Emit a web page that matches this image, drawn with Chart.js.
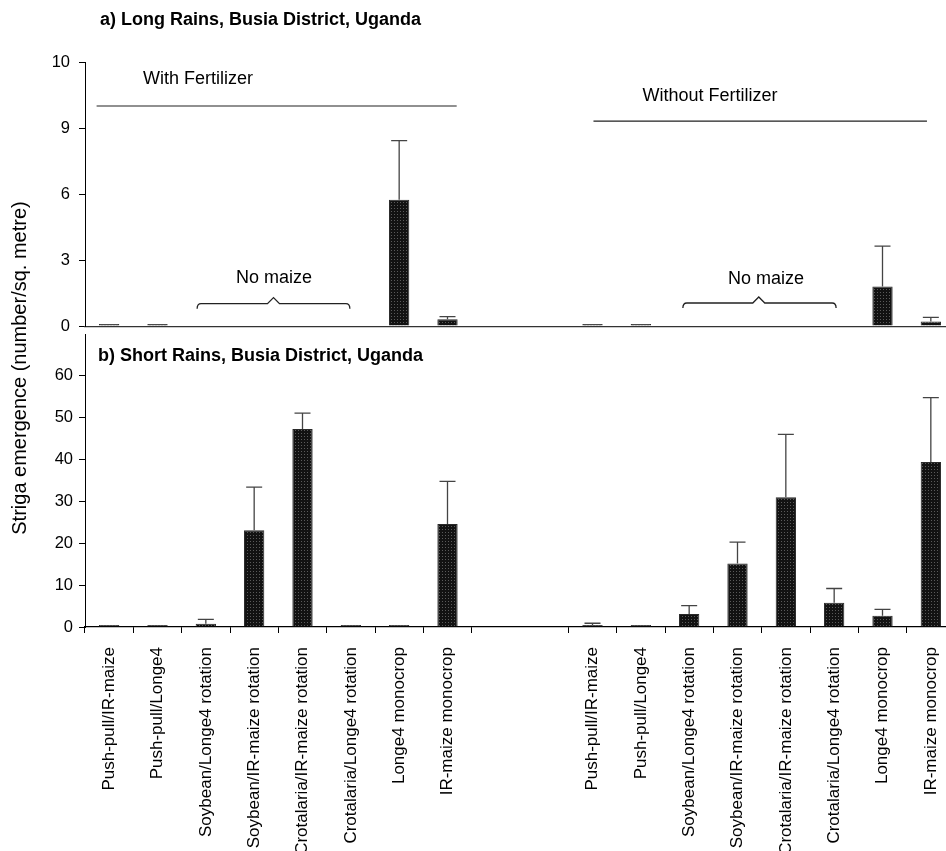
<!DOCTYPE html>
<html>
<head>
<meta charset="utf-8">
<title>Striga emergence, Busia District, Uganda</title>
<script src="https://cdn.jsdelivr.net/npm/chart.js@4.4.0/dist/chart.umd.min.js"></script>
<style>
  html, body { margin: 0; padding: 0; background: #fff; overflow: hidden; width: 946px; height: 851px; }
  #wrap { position: relative; width: 960px; height: 851px; }
  canvas { position: absolute; left: 0; top: 0; }
</style>
</head>
<body>
<div id="wrap">
  <canvas id="shortRains" width="960" height="851"></canvas>
  <canvas id="longRains" width="960" height="345"></canvas>
</div>
<script>
// Treatments, repeated for the with- and without-fertilizer halves
const treatments = [
  'Push-pull/IR-maize',
  'Push-pull/Longe4',
  'Soybean/Longe4 rotation',
  'Soybean/IR-maize rotation',
  'Crotalaria/IR-maize rotation',
  'Crotalaria/Longe4 rotation',
  'Longe4 monocrop',
  'IR-maize monocrop'
];
const gapLabels = ['', ''];

// a) Long rains: mean Striga count per sq. metre (null = no maize planted)
const longWithFert      = [0, 0, null, null, null, null, 5.74, 0.31];
const longWithFertSE    = [null, null, null, null, null, null, 2.69, 0.12];
const longWithoutFert   = [0, 0, null, null, null, null, 1.80, 0.21];
const longWithoutFertSE = [null, null, null, null, null, null, 1.83, 0.19];

// b) Short rains
const shortWithFert      = [0, 0, 0.8, 23.1, 47.3, 0.4, 0.4, 24.6];
const shortWithFertSE    = [null, null, 1.0, 10.3, 3.8, null, null, 10.2];
const shortWithoutFert   = [0.5, 0, 3.1, 15.2, 31.0, 5.8, 2.7, 39.4];
const shortWithoutFertSE = [0.4, null, 2.0, 5.1, 15.0, 3.4, 1.5, 15.4];

// Axis ticks
const longTicks  = [0, 3, 6, 9, 12];
const longTickLabels = ['0', '3', '6', '9', '10'];
const shortTicks = [0, 10, 20, 30, 40, 50, 60];

const categories = [...treatments, ...gapLabels, ...treatments];
const join = (a, b) => [...a, null, null, ...b];

const FONT = "'Liberation Sans', Arial, Helvetica, sans-serif";

// dotted dark fill used for every bar
function barPattern() {
  const c = document.createElement('canvas');
  c.width = 3; c.height = 3;
  const g = c.getContext('2d');
  g.fillStyle = '#121212';
  g.fillRect(0, 0, 3, 3);
  g.fillStyle = '#5a5a5a';
  g.fillRect(1, 1, 1, 1);
  return g.createPattern(c, 'repeat');
}

// standard-error whiskers drawn above each bar
const errorBars = {
  id: 'errorBars',
  afterDatasetsDraw(chart) {
    const ctx = chart.ctx;
    const yScale = chart.scales.y;
    chart.data.datasets.forEach((ds, di) => {
      if (!ds.errors) return;
      const meta = chart.getDatasetMeta(di);
      meta.data.forEach((bar, i) => {
        const v = ds.data[i], e = ds.errors[i];
        if (v == null || e == null) return;
        const y0 = yScale.getPixelForValue(v);
        const y1 = yScale.getPixelForValue(v + e);
        ctx.save();
        ctx.strokeStyle = '#444';
        ctx.lineWidth = 1.3;
        ctx.beginPath();
        ctx.moveTo(bar.x, y0);
        ctx.lineTo(bar.x, y1);
        ctx.moveTo(bar.x - 8, y1);
        ctx.lineTo(bar.x + 8, y1);
        ctx.stroke();
        ctx.restore();
      });
    });
  }
};

// curly bracket spanning the treatments without maize
function drawBrace(ctx, xa, xb, xm, y) {
  ctx.beginPath();
  ctx.moveTo(xa, y + 5);
  ctx.quadraticCurveTo(xa, y, xa + 4, y);
  ctx.lineTo(xm - 6, y);
  ctx.lineTo(xm, y - 6);
  ctx.lineTo(xm + 6, y);
  ctx.lineTo(xb - 4, y);
  ctx.quadraticCurveTo(xb, y, xb, y + 5);
  ctx.stroke();
}

// group labels for the long-rains panel, placed in axis units
const longNotes = {
  id: 'longNotes',
  afterDraw(chart) {
    const { ctx, chartArea } = chart;
    const x = chart.scales.x, y = chart.scales.y;
    ctx.save();
    ctx.fillStyle = '#000';
    ctx.font = `bold 18px ${FONT}`;
    ctx.textAlign = 'left';
    ctx.textBaseline = 'middle';
    ctx.fillText('a) Long Rains, Busia District, Uganda', chartArea.left + 15, chartArea.top - 42);

    ctx.font = `18px ${FONT}`;
    ctx.textAlign = 'center';
    ctx.fillText('With Fertilizer', x.getPixelForValue(1.84), y.getPixelForValue(11.23));
    ctx.fillText('Without Fertilizer', x.getPixelForValue(12.43), y.getPixelForValue(10.46));
    ctx.fillText('No maize', x.getPixelForValue(3.41), y.getPixelForValue(2.2));
    ctx.fillText('No maize', x.getPixelForValue(13.59), y.getPixelForValue(2.16));

    ctx.strokeStyle = '#222';
    ctx.lineWidth = 1.2;
    ctx.beginPath();
    ctx.moveTo(x.getPixelForValue(-0.26), y.getPixelForValue(10.0));
    ctx.lineTo(x.getPixelForValue(7.19), y.getPixelForValue(10.0));
    ctx.moveTo(x.getPixelForValue(10.02), y.getPixelForValue(9.31));
    ctx.lineTo(x.getPixelForValue(16.92), y.getPixelForValue(9.31));
    ctx.stroke();

    ctx.lineWidth = 1.3;
    drawBrace(ctx, x.getPixelForValue(1.82), x.getPixelForValue(4.98), x.getPixelForValue(3.40), y.getPixelForValue(1.02));
    drawBrace(ctx, x.getPixelForValue(11.87), x.getPixelForValue(15.04), x.getPixelForValue(13.44), y.getPixelForValue(1.05));
    ctx.restore();
  }
};

// panel title and shared y-axis title for the short-rains panel
const shortNotes = {
  id: 'shortNotes',
  afterDraw(chart) {
    const { ctx, chartArea } = chart;
    ctx.save();
    ctx.fillStyle = '#000';
    ctx.font = `bold 18px ${FONT}`;
    ctx.textAlign = 'left';
    ctx.textBaseline = 'middle';
    ctx.fillText('b) Short Rains, Busia District, Uganda', chartArea.left + 13, chartArea.top + 22);

    ctx.font = `20px ${FONT}`;
    ctx.textAlign = 'center';
    ctx.translate(20, 368);
    ctx.rotate(-Math.PI / 2);
    ctx.fillText('Striga emergence (number/sq. metre)', 0, 0);
    ctx.restore();
  }
};

const pattern = barPattern();
const barStyle = {
  backgroundColor: pattern,
  borderColor: '#2a2a2a',
  borderWidth: 1,
  barPercentage: 0.42,
  categoryPercentage: 1,
  minBarLength: 2
};
const tickFont = { family: FONT, size: 16.5 };

new Chart(document.getElementById('longRains'), {
  type: 'bar',
  data: {
    labels: categories,
    datasets: [{
      ...barStyle,
      data: join(longWithFert, longWithoutFert),
      errors: join(longWithFertSE, longWithoutFertSE)
    }]
  },
  options: {
    responsive: false,
    animation: false,
    devicePixelRatio: 1,
    layout: { padding: { top: 62, bottom: 12, left: 0, right: 5 } },
    plugins: { legend: { display: false }, tooltip: { enabled: false }, title: { display: false } },
    scales: {
      x: {
        grid: { display: false, drawTicks: false },
        ticks: { display: false },
        border: { display: true, color: '#333', width: 1.2 },
        afterFit(s) { s.height = 0; s.paddingLeft = 0; s.paddingRight = 0; }
      },
      y: {
        min: 0, max: 12,
        afterBuildTicks(s) { s.ticks = longTicks.map(v => ({ value: v })); },
        ticks: {
          font: tickFont, color: '#000', padding: 9,
          callback: (v) => longTickLabels[longTicks.indexOf(v)]
        },
        grid: { drawOnChartArea: false, tickLength: 6, color: '#000' },
        border: { color: '#000', width: 1 },
        afterFit(s) { s.width = 85; }
      }
    }
  },
  plugins: [errorBars, longNotes]
});

new Chart(document.getElementById('shortRains'), {
  type: 'bar',
  data: {
    labels: categories,
    datasets: [{
      ...barStyle,
      data: join(shortWithFert, shortWithoutFert),
      errors: join(shortWithFertSE, shortWithoutFertSE)
    }]
  },
  options: {
    responsive: false,
    animation: false,
    devicePixelRatio: 1,
    layout: { padding: { top: 334, bottom: 0, left: 0, right: 5 } },
    plugins: { legend: { display: false }, tooltip: { enabled: false }, title: { display: false } },
    scales: {
      x: {
        grid: {
          display: true, drawOnChartArea: false, tickLength: 6, color: '#000',
          tickColor: (c) => (c.index === 9 ? 'rgba(0,0,0,0)' : '#000')
        },
        ticks: {
          autoSkip: false, minRotation: 90, maxRotation: 90,
          font: { family: FONT, size: 17 }, color: '#000', padding: 14
        },
        border: { color: '#000', width: 1.2 },
        afterFit(s) { s.height = 224; s.paddingLeft = 0; s.paddingRight = 0; }
      },
      y: {
        min: 0, max: 70,
        afterBuildTicks(s) { s.ticks = shortTicks.map(v => ({ value: v })); },
        ticks: { font: tickFont, color: '#000', padding: 6 },
        grid: { drawOnChartArea: false, tickLength: 6, color: '#000' },
        border: { color: '#000', width: 1 },
        afterFit(s) { s.width = 85; }
      }
    }
  },
  plugins: [errorBars, shortNotes]
});
</script>
</body>
</html>
